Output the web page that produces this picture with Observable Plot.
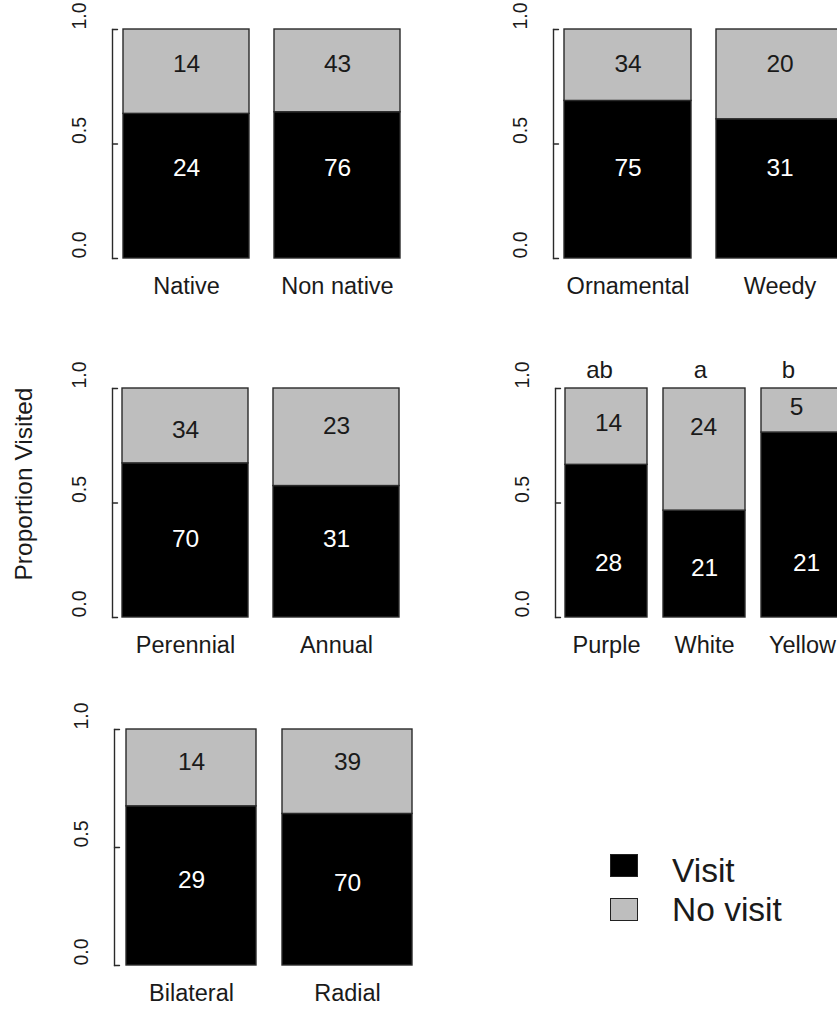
<!DOCTYPE html>
<html><head><meta charset="utf-8">
<script src="https://cdn.jsdelivr.net/npm/d3@7"></script>
<script src="https://cdn.jsdelivr.net/npm/@observablehq/plot@0.6"></script>
<style>
html,body{margin:0;padding:0;background:#fff;}
#fig{position:relative;width:837px;height:1010px;overflow:hidden;font-family:"Liberation Sans",Arial,sans-serif;color:#1a1a1a;}
.panel{position:absolute;}
.panel svg{max-width:none !important;overflow:visible;}
.ytitle{position:absolute;left:24px;top:484px;transform:translate(-50%,-50%) rotate(-90deg);font-size:24.5px;line-height:1;white-space:nowrap;}
.lg-box{position:absolute;left:610px;width:26px;height:21px;border:1.8px solid #222;}
.lg-text{position:absolute;left:672px;font-size:33.5px;line-height:1;white-space:nowrap;}
</style></head><body><div id="fig"></div>
<script>
// ---------- data ----------
const groups = ["Visit", "No visit"];
const yTicks = [0, 0.5, 1];

const originCats = ["Native", "Non native"];
const originVisit = [24, 76];
const originNoVisit = [14, 43];

const useCats = ["Ornamental", "Weedy"];
const useVisit = [75, 31];
const useNoVisit = [34, 20];

const lifeCats = ["Perennial", "Annual"];
const lifeVisit = [70, 31];
const lifeNoVisit = [34, 23];

const colourCats = ["Purple", "White", "Yellow"];
const colourVisit = [28, 21, 21];
const colourNoVisit = [14, 24, 5];
const colourLetters = ["ab", "a", "b"];

const symCats = ["Bilateral", "Radial"];
const symVisit = [29, 70];
const symNoVisit = [14, 39];

// ---------- layout (pixels, and label heights in proportion units) ----------
const panels = [
  {cats: originCats, visit: originVisit, noVisit: originNoVisit,
   axisX: 111.5, top: 29, bottom: 258, barL: 122, barR: 399,
   visitLabelY: [0.393, 0.393], noLabelY: [0.847, 0.847]},
  {cats: useCats, visit: useVisit, noVisit: useNoVisit,
   axisX: 553, top: 29, bottom: 258, barL: 564, barR: 843,
   visitLabelY: [0.393, 0.393], noLabelY: [0.85, 0.85]},
  {cats: lifeCats, visit: lifeVisit, noVisit: lifeNoVisit,
   axisX: 112, top: 388, bottom: 617, barL: 122, barR: 399,
   visitLabelY: [0.34, 0.34], noLabelY: [0.817, 0.834]},
  {cats: colourCats, visit: colourVisit, noVisit: colourNoVisit, letters: colourLetters,
   axisX: 555, top: 388, bottom: 617, barL: 564, barR: 843,
   visitLabelY: [0.236, 0.214, 0.236], noLabelY: [0.85, 0.83, 0.917],
   visitLabelDx: [2, 0, 4], noLabelDx: [2, -1, -6], letterDx: [-7, -4, -14]},
  {cats: symCats, visit: symVisit, noVisit: symNoVisit,
   axisX: 114, top: 729, bottom: 965, barL: 125, barR: 412,
   visitLabelY: [0.36, 0.347], noLabelY: [0.86, 0.86]}
];

const FONT = "'Liberation Sans', Arial, sans-serif";
const INK = "#1a1a1a";
const tickShape = {draw(context, l) { context.moveTo(0, 0); context.lineTo(0, -l); }};
const fig = document.getElementById("fig");

for (const p of panels) {
  const mL = 60, mT = 40, mB = 60, mR = 10;
  const svgLeft = p.axisX - mL, svgTop = p.top - mT;
  const width = p.barR - svgLeft + mR;
  const height = mT + (p.bottom - p.top) + mB;
  const rows = p.cats.flatMap((c, i) => [
    {cat: c, type: "Visit", n: p.visit[i]},
    {cat: c, type: "No visit", n: p.noVisit[i]}
  ]);
  const vdx = p.visitLabelDx || p.cats.map(() => 0);
  const ndx = p.noLabelDx || p.cats.map(() => 0);
  const marks = [
    Plot.barY(rows, {x: "cat", y: "n", fill: "type", offset: "normalize", order: groups,
      stroke: "#2a2a2a", strokeWidth: 1.4}),
    Plot.frame({anchor: "left", stroke: "#2a2a2a", strokeWidth: 1.4}),
    Plot.vector(yTicks, {y: d => d, frameAnchor: "left", length: 5, rotate: 90, anchor: "start",
      shape: tickShape, stroke: "#2a2a2a", strokeWidth: 1.4}),
    Plot.text(yTicks, {y: d => d, text: d => d.toFixed(1), frameAnchor: "left", dx: -33,
      rotate: -90, fontSize: 19.5, fill: INK}),
    Plot.text(p.cats, {x: d => d, text: d => d, frameAnchor: "bottom", dy: 35, fontSize: 23.5, fill: INK})
  ];
  p.cats.forEach((c, i) => {
    marks.push(Plot.text([{cat: c, y: p.visitLabelY[i], text: String(p.visit[i])}],
      {x: "cat", y: "y", text: "text", fill: "white", fontSize: 24.5, dx: vdx[i]}));
    marks.push(Plot.text([{cat: c, y: p.noLabelY[i], text: String(p.noVisit[i])}],
      {x: "cat", y: "y", text: "text", fill: INK, fontSize: 24.5, dx: ndx[i]}));
    if (p.letters) {
      marks.push(Plot.text([c], {x: d => d, text: () => p.letters[i], frameAnchor: "top",
        dy: -28, dx: p.letterDx[i], fontSize: 24, fill: INK}));
    }
  });
  const chart = Plot.plot({
    width, height, marginLeft: mL, marginTop: mT, marginBottom: mB, marginRight: mR,
    style: {fontFamily: FONT, overflow: "visible", maxWidth: "none", background: "transparent"},
    x: {domain: p.cats, range: [p.barL - svgLeft, p.barR - svgLeft], paddingInner: 1 / 6, paddingOuter: 0, axis: null},
    y: {domain: [0, 1], axis: null},
    color: {domain: groups, range: ["#000000", "#bebebe"]},
    marks
  });
  const wrap = document.createElement("div");
  wrap.className = "panel";
  wrap.style.left = svgLeft + "px";
  wrap.style.top = svgTop + "px";
  wrap.appendChild(chart);
  fig.appendChild(wrap);
}

// y-axis title
const yt = document.createElement("div");
yt.className = "ytitle";
yt.textContent = "Proportion Visited";
fig.appendChild(yt);

// legend
const legendColors = ["#000000", "#bebebe"];
const legendTops = [854, 898];
const legendTextTops = [853.6, 892.6];
groups.forEach((g, i) => {
  const b = document.createElement("div");
  b.className = "lg-box";
  b.style.top = legendTops[i] + "px";
  b.style.background = legendColors[i];
  fig.appendChild(b);
  const t = document.createElement("div");
  t.className = "lg-text";
  t.style.top = legendTextTops[i] + "px";
  t.textContent = g;
  fig.appendChild(t);
});
</script>
</body></html>
